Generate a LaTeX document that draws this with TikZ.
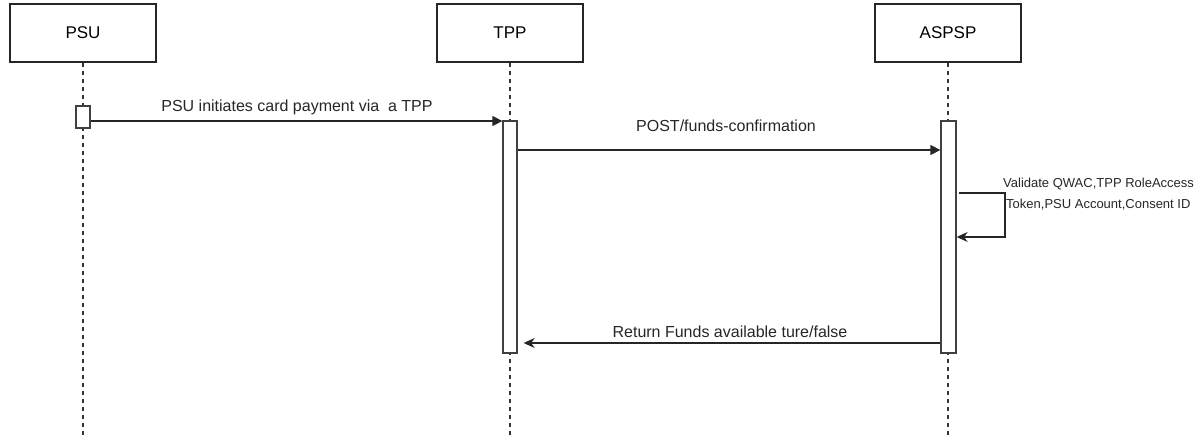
\documentclass[tikz,border=0pt]{standalone}
\usepackage{fontspec}
\setmainfont{Liberation Sans}
\usetikzlibrary{arrows.meta}
\begin{document}
\begin{tikzpicture}[x=1pt,y=-1pt,
  actor/.style={draw=black!85,line width=1.3pt,minimum width=146pt,minimum height=58pt,inner sep=0pt,font=\fontsize{17}{20}\selectfont},
  lifeline/.style={draw=black!80,line width=1.3pt,dash pattern=on 4pt off 4pt},
  activation/.style={draw=black!75,fill=white,line width=1.3pt,inner sep=0pt},
  msg/.style={draw=black!85,line width=1.3pt,-{Triangle[length=10pt,width=10pt]}},
  reply/.style={draw=black!85,line width=1.3pt,-{Stealth[length=11pt,width=10pt,inset=3.5pt]}},
  lbl/.style={font=\fontsize{16}{19}\selectfont,text=black!85,inner sep=0pt,anchor=center},
  small/.style={font=\fontsize{13}{21}\selectfont,text=black!85,inner sep=0pt,align=left}]
\useasboundingbox (0,0) rectangle (1201,438);

% participants
\node[actor] (psu) at (83,33) {PSU};
\node[actor] (tpp) at (510,33) {TPP};
\node[actor] (aspsp) at (948,33) {ASPSP};

% lifeline ends
\coordinate (psuEnd) at (83,438);
\coordinate (tppEnd) at (510,438);
\coordinate (aspspEnd) at (948,438);
\draw[lifeline] (psu.south) -- (psuEnd);
\draw[lifeline] (tpp.south) -- (tppEnd);
\draw[lifeline] (aspsp.south) -- (aspspEnd);

% activation bars
\node[activation,minimum width=14pt,minimum height=22pt] (psuAct) at (83,117) {};
\node[activation,minimum width=14pt,minimum height=232pt] (tppAct) at (510,237) {};
\node[activation,minimum width=15pt,minimum height=232pt] (aspspAct) at (948.5,237) {};

% messages
\coordinate (m1s) at (psuAct.east |- 0,121);
\coordinate (m1e) at (tppAct.west |- 0,121);
\draw[msg] (m1s) -- (m1e);
\node[lbl] (m1l) at (297,107) {PSU initiates card payment via\ \ a TPP};

\coordinate (m2s) at (tppAct.east |- 0,150);
\coordinate (m2e) at (aspspAct.west |- 0,150);
\draw[msg] (m2s) -- (m2e);
\node[lbl] (m2l) at (726,126) {POST/funds-confirmation};

% self call on ASPSP
\coordinate (s1) at ([xshift=2pt]aspspAct.east |- 0,193);
\coordinate (s2) at (1005,193);
\coordinate (s3) at (1005,237);
\coordinate (s4) at (aspspAct.east |- 0,237);
\draw[reply] (s1) -- (s2) -- (s3) -- (s4);
\node[small,anchor=north west] (selfLbl) at (1003,178) {Validate QWAC,TPP RoleAccess\\\hspace*{3pt}Token,PSU Account,Consent ID};

% reply
\coordinate (r1s) at (aspspAct.west |- 0,343);
\coordinate (r1e) at ([xshift=6pt]tppAct.east |- 0,343);
\draw[reply] (r1s) -- (r1e);
\node[lbl] (r1l) at (730,332) {Return Funds available ture/false};
\end{tikzpicture}
\end{document}
